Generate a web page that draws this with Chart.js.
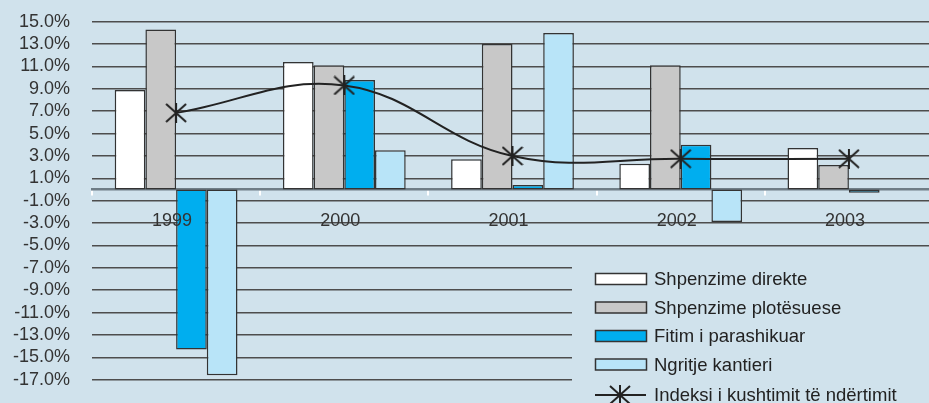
<!DOCTYPE html>
<html>
<head>
<meta charset="utf-8">
<script src="https://cdn.jsdelivr.net/npm/chart.js@4.4.1/dist/chart.umd.min.js"></script>
<style>
  html, body { margin: 0; padding: 0; overflow: hidden; background: #d0e2ec; }
  .wrap { position: relative; width: 945px; height: 403px; }
</style>
</head>
<body>
<div class="wrap"><canvas id="myChart"></canvas></div>
<script>
// te dhenat
const years = ['1999', '2000', '2001', '2002', '2003'];
const shpenzimeDirekte = [8.9, 11.4, 2.7, 2.3, 3.7];
const shpenzimePlotesuese = [14.3, 11.1, 13.0, 11.1, 2.2];
const fitimParashikuar = [-14.3, 9.8, 0.4, 4.0, -0.3];
const ngritjeKantieri = [-16.6, 3.5, 14.0, -2.9, null];
const indeksiKushtimit = [6.85, 9.3, 3.0, 2.75, 2.75];
const yTicks = [15, 13, 11, 9, 7, 5, 3, 1, -1, -3, -5, -7, -9, -11, -13, -15, -17];

const BG = '#d0e2ec';
const FONT = '"Liberation Sans", Arial, sans-serif';

// shenja yll (X me vije vertikale)
function makeStar() {
  const c = document.createElement('canvas');
  c.width = 22; c.height = 20;
  const g = c.getContext('2d');
  g.strokeStyle = '#222';
  g.lineWidth = 2;
  g.beginPath();
  g.moveTo(1, 1); g.lineTo(21, 19);
  g.moveTo(21, 1); g.lineTo(1, 19);
  g.moveTo(11, 0); g.lineTo(11, 20);
  g.stroke();
  return c;
}
const star = makeStar();

// legjenda poshte djathtas, brenda grafikut
const legendBox = {
  id: 'legendBox',
  afterDraw(chart) {
    const ctx = chart.ctx;
    ctx.save();
    ctx.fillStyle = BG;
    ctx.fillRect(572, 252, chart.width - 572, chart.height - 252);
    ctx.font = '18.5px ' + FONT;
    ctx.textBaseline = 'middle';
    chart.data.datasets.forEach((ds, i) => {
      const y = 279 + i * 28.5 + (ds.type === 'line' ? 2 : 0);
      if (ds.type === 'line') {
        ctx.strokeStyle = '#222';
        ctx.lineWidth = 2;
        ctx.beginPath();
        ctx.moveTo(595, y);
        ctx.lineTo(646, y);
        ctx.stroke();
        ctx.drawImage(star, 620 - star.width / 2, y - star.height / 2);
      } else {
        ctx.fillStyle = ds.backgroundColor;
        ctx.fillRect(595.5, y - 5.5, 51, 11);
        ctx.strokeStyle = '#333';
        ctx.lineWidth = 1.5;
        ctx.strokeRect(595.5, y - 5.5, 51, 11);
      }
      ctx.fillStyle = '#222';
      ctx.fillText(ds.label, 654, y + 1);
    });
    ctx.restore();
  }
};

const barStyle = {
  borderColor: '#333',
  borderWidth: 1.5,
  borderSkipped: false,
  barPercentage: 1,
  categoryPercentage: 0.73,
  order: 1
};

const ctx = document.getElementById('myChart');

new Chart(ctx, {
  type: 'bar',
  data: {
    labels: years,
    datasets: [
      Object.assign({ label: 'Shpenzime direkte', data: shpenzimeDirekte, backgroundColor: '#ffffff' }, barStyle),
      Object.assign({ label: 'Shpenzime plotësuese', data: shpenzimePlotesuese, backgroundColor: '#c8c8c8' }, barStyle),
      Object.assign({ label: 'Fitim i parashikuar', data: fitimParashikuar, backgroundColor: '#00aeef' }, barStyle),
      Object.assign({ label: 'Ngritje kantieri', data: ngritjeKantieri, backgroundColor: '#b8e4f8' }, barStyle),
      {
        type: 'line',
        label: 'Indeksi i kushtimit të ndërtimit',
        data: indeksiKushtimit,
        borderColor: '#222',
        borderWidth: 2,
        tension: 0.4,
        pointStyle: star,
        pointRadius: 10,
        order: 0
      }
    ]
  },
  options: {
    responsive: true,
    maintainAspectRatio: false,
    animation: false,
    layout: { padding: { left: 0, top: 21.7, right: 5.5, bottom: 23.3 } },
    plugins: {
      legend: { display: false },
      tooltip: { enabled: false }
    },
    scales: {
      x: {
        position: { y: 0 },
        grid: {
          drawOnChartArea: false,
          drawTicks: true,
          tickLength: 5,
          color: '#ffffff',
          lineWidth: 2
        },
        border: { display: true, color: '#6f7d86', width: 2.5 },
        ticks: {
          z: 1,
          color: '#333',
          padding: 16,
          labelOffset: -4,
          font: { size: 18, family: FONT }
        }
      },
      y: {
        min: -17,
        max: 15,
        afterBuildTicks: scale => {
          scale.ticks = yTicks.map(v => ({ value: v }));
        },
        afterFit: scale => {
          scale.width = 92;
          scale.paddingTop = 8;
          scale.paddingBottom = 8;
        },
        grid: {
          drawTicks: false,
          color: '#4d4d4d',
          lineWidth: 1.5
        },
        border: { display: false },
        ticks: {
          autoSkip: false,
          color: '#333',
          padding: 22,
          font: { size: 18, family: FONT },
          callback: v => v.toFixed(1) + '%'
        }
      }
    }
  },
  plugins: [legendBox]
});
</script>
</body>
</html>
